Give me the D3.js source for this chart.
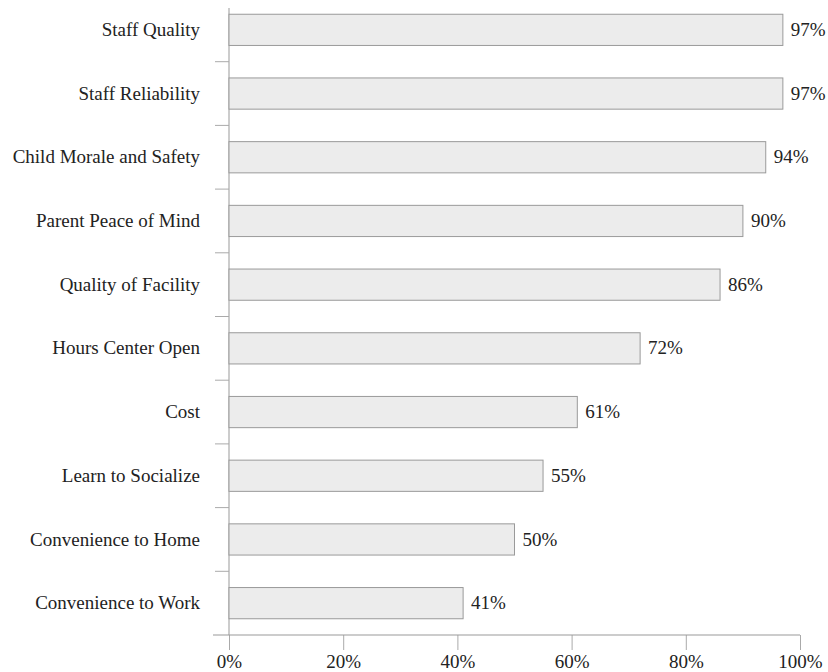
<!DOCTYPE html>
<html>
<head>
<meta charset="utf-8">
<script src="https://cdn.jsdelivr.net/npm/d3@7"></script>
<style>
  html, body { margin: 0; padding: 0; background: #fff; }
  #chart { width: 828px; height: 672px; }
  text { font-family: "Liberation Serif", "DejaVu Serif", serif; fill: #222; }
</style>
</head>
<body>
<div id="chart"></div>
<script>
// data
const categories = ['Staff Quality', 'Staff Reliability', 'Child Morale and Safety', 'Parent Peace of Mind',
                    'Quality of Facility', 'Hours Center Open', 'Cost', 'Learn to Socialize',
                    'Convenience to Home', 'Convenience to Work'];
const values = [97, 97, 94, 90, 86, 72, 61, 55, 50, 41];
const xTicks = [0, 20, 40, 60, 80, 100];

const chart = {};

chart.create = function(config){
  chart.config = config;
  this.config.width_svg = 828;
  this.config.height_svg = 672;
  this.config.svg = d3.select(`#${this.config.target}`)
                      .append('svg')
                      .attr('width', this.config.width_svg)
                      .attr('height', this.config.height_svg);
}

chart.update = function(){
  let svg = this.config.svg.append('g').attr('id', 'g_container');
  let data = categories.map((c, i) => ({name: c, value: values[i]}));

  let xScale = d3.scaleLinear()
                .domain([0, 100])
                .range([229, 800]);
  let yScale = d3.scaleBand()
                .domain(categories)
                .range([-2, 635])
                .paddingInner(0.51)
                .paddingOuter(0.255);
  let axisY = 635;

  // x axis
  let xAxis = g => g.attr('transform', `translate(0, ${axisY})`)
                    .call(d3.axisBottom(xScale).tickValues(xTicks).tickSize(15).tickFormat(d => d + '%'))
                    .call(g => g.select('.domain').remove())
                    .call(g => g.selectAll('.tick line').attr('stroke', '#aaa'))
                    .call(g => g.selectAll('.tick text')
                                .attr('font-size', 19)
                                .attr('font-family', '"Liberation Serif", serif')
                                .attr('fill', '#222')
                                .attr('y', 20)
                                .attr('dy', '0.71em'));
  svg.append('g').attr('id', 'g_xAxis').call(xAxis);
  svg.append('line')
     .attr('x1', xScale(0) - 16).attr('x2', xScale(100))
     .attr('y1', axisY).attr('y2', axisY)
     .attr('stroke', '#999');

  // y axis: labels centred on bands, ticks between bands
  let yAxis = g => g.attr('transform', `translate(${xScale(0)}, 0)`)
                    .call(d3.axisLeft(yScale).tickSize(0).tickPadding(29))
                    .call(g => g.select('.domain').remove())
                    .call(g => g.selectAll('.tick text')
                                .attr('font-size', 19)
                                .attr('font-family', '"Liberation Serif", serif')
                                .attr('fill', '#222'));
  svg.append('g').attr('id', 'g_yAxis').call(yAxis);
  svg.append('line')
     .attr('x1', xScale(0)).attr('x2', xScale(0))
     .attr('y1', 8).attr('y2', axisY)
     .attr('stroke', '#999');
  svg.append('g')
     .attr('id', 'g_yTicks')
     .selectAll('line')
     .data(categories.slice(1))
     .enter().append('line')
       .attr('x1', xScale(0) - 14).attr('x2', xScale(0))
       .attr('y1', d => yScale(d) - yScale.step() * yScale.paddingInner() / 2)
       .attr('y2', d => yScale(d) - yScale.step() * yScale.paddingInner() / 2)
       .attr('stroke', '#aaa');

  // bars
  svg.append('g')
     .attr('id', 'g_bars')
     .selectAll('rect')
     .data(data)
     .enter().append('rect')
       .attr('x', xScale(0))
       .attr('y', d => yScale(d.name))
       .attr('width', d => xScale(d.value) - xScale(0))
       .attr('height', yScale.bandwidth())
       .attr('fill', '#ececec')
       .attr('stroke', '#9a9a9a')
       .attr('stroke-width', 1);

  // value labels
  svg.append('g')
     .attr('id', 'g_labels')
     .selectAll('text')
     .data(data)
     .enter().append('text')
       .attr('x', d => xScale(d.value) + 8)
       .attr('y', d => yScale(d.name) + yScale.bandwidth() / 2)
       .attr('dy', '0.32em')
       .attr('font-size', 19)
       .text(d => d.value + '%');
}

chart.create({target: 'chart'});
chart.update();
</script>
</body>
</html>
